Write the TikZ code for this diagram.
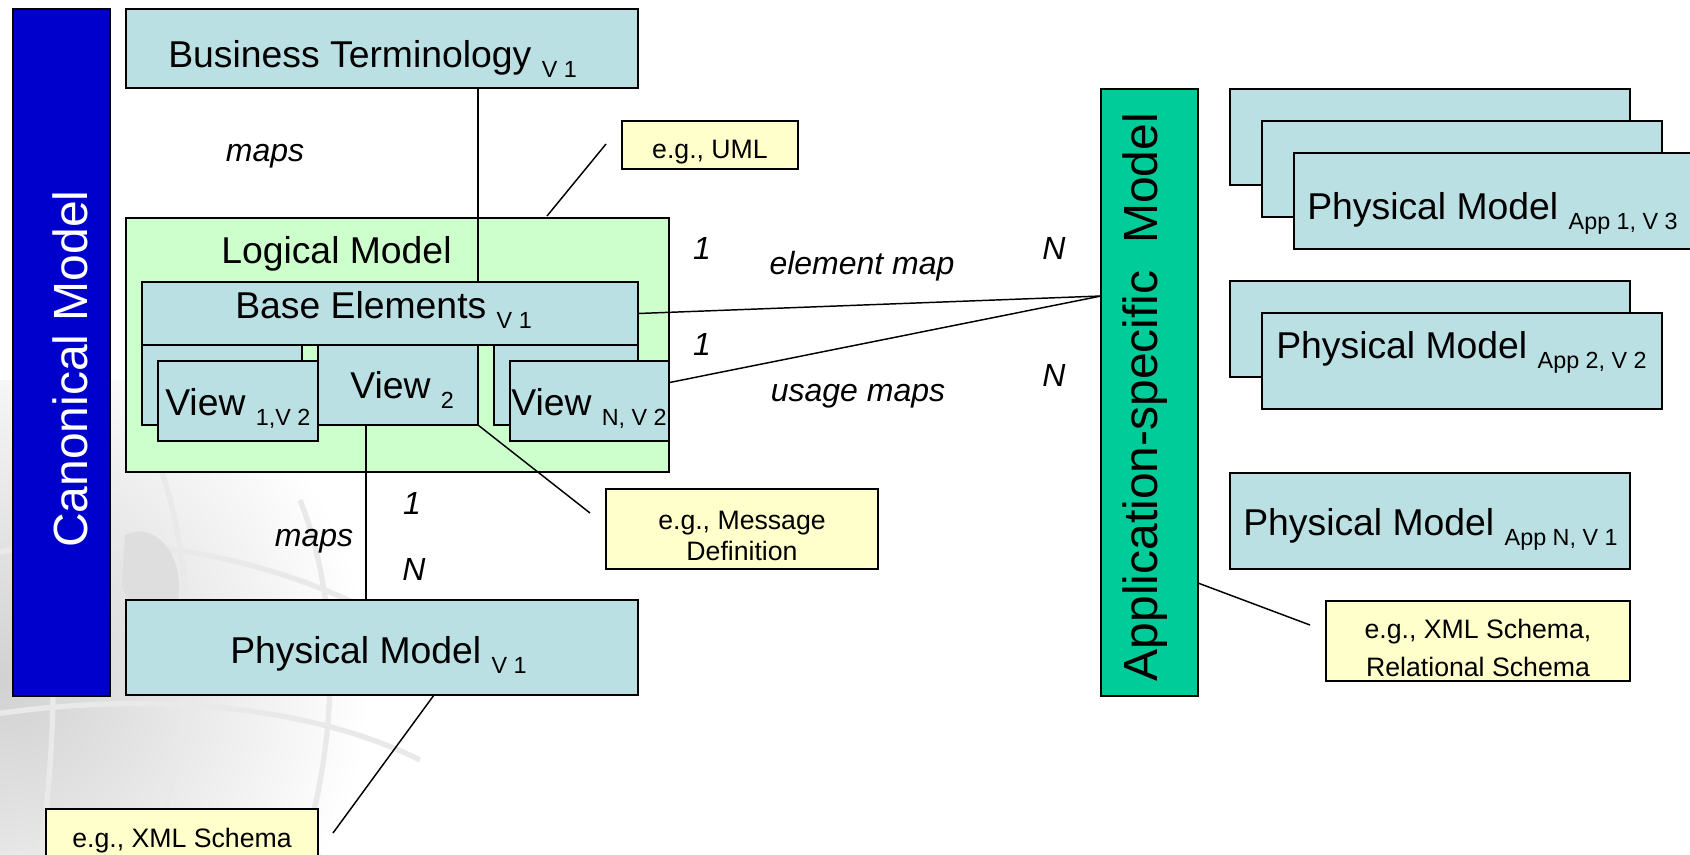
\documentclass[tikz,border=0pt]{standalone}
\usepackage{fontspec}
\setmainfont{Liberation Sans}
\usetikzlibrary{calc}
\definecolor{boxblue}{RGB}{187,224,227}
\definecolor{lmgreen}{RGB}{204,255,204}
\definecolor{noteyellow}{RGB}{255,255,204}
\definecolor{canblue}{RGB}{0,0,204}
\definecolor{appgreen}{RGB}{0,204,153}
\newcommand\rbox[7]{\node[#1, minimum width={(#5-#3)*0.75pt}, minimum height={(#6-#4)*0.75pt}] (#2) at ({(#3+#5)/2},{(#4+#6)/2}) {#7};}
\newcommand\lsub[1]{{\fontsize{17.5}{18}\selectfont\raisebox{-7.5pt}{#1}}}
\begin{document}
\begin{tikzpicture}[x=0.75pt,y=-0.75pt,
  shapebox/.style={draw=black, line width=1.6pt, inner sep=0pt, outer sep=0pt, rectangle},
  physbox/.style={shapebox, fill=boxblue},
  logbox/.style={shapebox, fill=lmgreen},
  notebox/.style={shapebox, fill=noteyellow, line width=1.3pt},
  notetext/.style={font=\fontsize{20}{23.5}\selectfont, align=center, inner sep=0pt},
  canbar/.style={shapebox, fill=canblue},
  appbar/.style={shapebox, fill=appgreen},
  bigtext/.style={font=\fontsize{28}{30}\selectfont, inner sep=0pt, anchor=base west},
  vtext/.style={font=\fontsize{36}{38}\selectfont, inner sep=0pt, rotate=90},
  lbl/.style={font=\fontsize{24}{26}\selectfont\itshape, inner sep=0pt},
  conn/.style={draw=black, line width=1.1pt},
  globe/.style={draw=gray!17, line width=4pt}
]
\useasboundingbox (0,0) rectangle (1690,854);
\clip (0,0) rectangle (1690,854);
% background globe watermark
\begin{scope}
  \clip (0,380) rectangle (460,854);
  \shade[inner color=gray!36, outer color=white] (0,680) circle (370);
  \draw[globe] (-40,560) .. controls (120,520) and (300,560) .. (420,640);
  \draw[globe] (-40,720) .. controls (120,690) and (300,700) .. (420,760);
  \draw[globe] (-40,860) .. controls (120,840) and (300,840) .. (420,880);
  \draw[globe] (20,420) .. controls (60,560) and (60,720) .. (40,860);
  \draw[globe] (150,440) .. controls (200,560) and (200,720) .. (150,860);
  \draw[globe] (300,500) .. controls (340,600) and (340,740) .. (300,860);
  \fill[gray!26] (125,535) .. controls (155,520) and (185,555) .. (178,600) .. controls (165,640) and (132,620) .. (122,585) -- cycle;
\end{scope}
% left column
\rbox{canbar}{canon}{13}{9}{110}{696}{}
\node[vtext, text=white] (canonT) at (70,369) {Canonical Model};
\rbox{physbox}{bt}{126}{9}{638}{88}{}
\node[bigtext] (btT) at (168,67) {Business Terminology \lsub{V 1}};
\rbox{logbox}{lm}{126}{218}{669}{472}{}
\node[bigtext] (lmT) at (221,263) {Logical Model};
\coordinate (cx1) at (478,0);
\draw[conn] (bt.south -| cx1) -- (lm.north -| cx1);
\rbox{physbox}{base}{142}{282}{638}{345}{}
\draw[conn] (lm.north -| cx1) -- (base.north -| cx1);
\node[bigtext] (baseT) at (235,318) {Base Elements \lsub{V 1}};
\rbox{physbox}{v1b}{142}{345}{302}{425}{}
\rbox{physbox}{v1}{158}{361}{318}{441}{}
\node[bigtext] (v1T) at (165,415) {View \lsub{1,V 2}};
\rbox{physbox}{v2}{318}{345}{478}{425}{}
\node[bigtext] (v2T) at (350,398) {View \lsub{2}};
\rbox{physbox}{vnb}{494}{345}{638}{425}{}
\rbox{physbox}{vn}{510}{361}{669}{441}{}
\node[bigtext] (vnT) at (511,415) {View \lsub{N, V 2}};
\rbox{physbox}{pm}{126}{600}{638}{695}{}
\node[bigtext] (pmT) at (230,663) {Physical Model \lsub{V 1}};
\coordinate (cx2) at (366,0);
\draw[conn] (v2.south -| cx2) -- (pm.north -| cx2);
% notes
\rbox{notebox}{uml}{622}{121}{798}{169}{}
\node[notetext] (umlT) at (710,152) {e.g., UML};
\coordinate (umlA) at (606,144);
\coordinate (umlB) at (547,216);
\draw[conn] (umlA) -- (umlB);
\rbox{notebox}{msg}{606}{489}{878}{569}{}
\node[notetext] (msgT) at (742,536) {e.g., Message\\Definition};
\coordinate (msgA) at (590,513);
\draw[conn] (v2.south east) -- (msgA);
\rbox{notebox}{xml}{46}{809}{318}{889}{}
\node[notetext] (xmlT) at (182,841) {e.g., XML Schema};
\coordinate (pmA) at (434,695);
\coordinate (pmB) at (333,833);
\draw[conn] (pmA) -- (pmB);
% labels
\node[lbl] (maps1) at (265,156) {maps};
\node[lbl] (maps2) at (314,541) {maps};
\node[lbl] (one1) at (412,503) {1};
\node[lbl] (nn1) at (414,569) {N};
\node[lbl] (one2) at (702,248) {1};
\node[lbl] (em) at (862,266) {element map};
\node[lbl] (nn2) at (1054,248) {N};
\node[lbl] (one3) at (702,344) {1};
\node[lbl] (um) at (858,396) {usage maps};
\node[lbl] (nn3) at (1054,375) {N};
% right column
\rbox{appbar}{app}{1101}{89}{1198}{696}{}
\node[vtext] (appT) at (1145,397) {Application-specific\ \ Model};
\coordinate (apj) at (1101,296);
\draw[conn] (base.east) -- (apj);
\draw[conn] ($(vn.north east)!0.27!(vn.south east)$) -- (apj);
\rbox{physbox}{a1b}{1230}{89}{1630}{185}{}
\rbox{physbox}{a1m}{1262}{121}{1662}{217}{}
\rbox{physbox}{a1}{1294}{153}{1720}{249}{}
\node[bigtext] (a1T) at (1307,219) {Physical Model \lsub{App 1, V 3}};
\rbox{physbox}{a2b}{1230}{281}{1630}{377}{}
\rbox{physbox}{a2}{1262}{313}{1662}{409}{}
\node[bigtext] (a2T) at (1276,358) {Physical Model \lsub{App 2, V 2}};
\rbox{physbox}{an}{1230}{473}{1630}{569}{}
\node[bigtext] (anT) at (1243,535) {Physical Model \lsub{App N, V 1}};
\rbox{notebox}{rel}{1326}{601}{1630}{681}{}
\node[notetext, font=\fontsize{20}{28}\selectfont] (relT) at (1478,648) {e.g., XML Schema,\\Relational Schema};
\coordinate (appA) at (1310,625);
\draw[conn] (app.east |- 0,583) -- (appA);
\end{tikzpicture}
\end{document}
